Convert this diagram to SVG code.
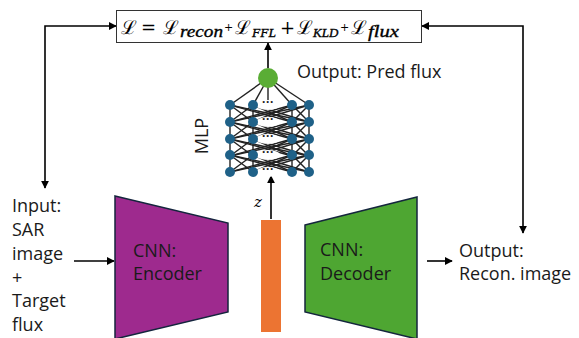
<svg xmlns="http://www.w3.org/2000/svg" width="579" height="338" viewBox="0 0 579 338">
<style>
.t{font-family:"Open Sans","Liberation Sans",sans-serif;font-size:18px;fill:#1a1a1a}
.m{font-family:"DejaVu Serif","Liberation Serif",serif;fill:#000}
.mi{font-family:"Liberation Serif","DejaVu Serif",serif;font-style:italic;fill:#000;stroke:#000;stroke-width:0.35}
.ln{stroke:#000;stroke-width:1.6;fill:none}
.nn{stroke:#222;stroke-width:1.4}
.bn{fill:#1f6188}
</style>
<defs>
<marker id="ah" viewBox="0 0 10 10" refX="9" refY="5" markerWidth="5" markerHeight="5" orient="auto-start-reverse">
<path d="M0,0 L10,5 L0,10 z" fill="#000"/>
</marker>
</defs>
<rect width="579" height="338" fill="#fff"/>

<g id="connectors">
<path class="ln" d="M45,188 L45,26 L116,26" marker-start="url(#ah)" marker-end="url(#ah)"/>
<path class="ln" d="M523,233 L523,26 L422,26" marker-start="url(#ah)" marker-end="url(#ah)"/>
<path class="ln" d="M268,68 L268,43" marker-end="url(#ah)"/>
<path class="ln" d="M74,261 L114,261" marker-end="url(#ah)"/>
<path class="ln" d="M427,261 L452,261" marker-end="url(#ah)"/>
<path class="ln" d="M271,219 L271,176" marker-end="url(#ah)"/>
</g>

<g id="loss">
<rect x="116.5" y="10.5" width="305" height="32" fill="#fff" stroke="#333" stroke-width="1"/>
<text class="m" x="121" y="34" font-size="19">ℒ</text>
<text class="m" x="141" y="34" font-size="18">=</text>
<text class="m" x="163" y="34" font-size="19">ℒ</text>
<text class="mi" x="180" y="37" font-size="17" textLength="43" lengthAdjust="spacingAndGlyphs">recon</text>
<text class="m" x="224" y="31" font-size="11">+</text>
<text class="m" x="235" y="34" font-size="19">ℒ</text>
<text class="mi" x="252" y="37" font-size="13.5">FFL</text>
<text class="m" x="280" y="34" font-size="18">+</text>
<text class="m" x="297" y="34" font-size="19">ℒ</text>
<text class="mi" x="313" y="37" font-size="13">KLD</text>
<text class="m" x="340" y="31" font-size="11">+</text>
<text class="m" x="351" y="34" font-size="19">ℒ</text>
<text class="mi" x="368" y="37" font-size="17" textLength="31" lengthAdjust="spacingAndGlyphs">flux</text>
</g>

<g id="mlp">
<g class="nn">
<line x1="268" y1="78" x2="230" y2="105"/><line x1="268" y1="78" x2="253" y2="105"/>
<line x1="268" y1="78" x2="268" y2="105"/>
<line x1="268" y1="78" x2="292" y2="105"/><line x1="268" y1="78" x2="309" y2="105"/>
<line x1="230" y1="105" x2="230" y2="172"/><line x1="309" y1="105" x2="309" y2="172"/>
<g id="gap">
<line x1="230" y1="105" x2="253" y2="122"/><line x1="230" y1="105" x2="292" y2="122"/><line x1="230" y1="105" x2="309" y2="122"/>
<line x1="253" y1="105" x2="230" y2="122"/><line x1="253" y1="105" x2="253" y2="122"/><line x1="253" y1="105" x2="292" y2="122"/><line x1="253" y1="105" x2="309" y2="122"/>
<line x1="292" y1="105" x2="230" y2="122"/><line x1="292" y1="105" x2="253" y2="122"/><line x1="292" y1="105" x2="292" y2="122"/><line x1="292" y1="105" x2="309" y2="122"/>
<line x1="309" y1="105" x2="230" y2="122"/><line x1="309" y1="105" x2="253" y2="122"/><line x1="309" y1="105" x2="292" y2="122"/>
</g>
<use href="#gap" y="17"/>
<use href="#gap" y="34"/>
<use href="#gap" y="50"/>
</g>
<g fill="#fff">
<ellipse cx="268" cy="105" rx="12" ry="5"/>
<ellipse cx="268" cy="122" rx="12" ry="5"/>
<ellipse cx="268" cy="139" rx="12" ry="5"/>
<ellipse cx="268" cy="155" rx="12" ry="5"/>
<ellipse cx="268" cy="172" rx="12" ry="5"/>
</g>
<g font-family="Liberation Sans,sans-serif" font-size="12" font-weight="bold" fill="#222" text-anchor="middle">
<text x="268" y="106">···</text><text x="268" y="123">···</text><text x="268" y="140">···</text><text x="268" y="156">···</text><text x="268" y="173">···</text>
</g>
<g class="bn">
<circle cx="230" cy="105" r="5"/><circle cx="253" cy="105" r="5"/><circle cx="292" cy="105" r="5"/><circle cx="309" cy="105" r="5"/>
<circle cx="230" cy="122" r="5"/><circle cx="253" cy="122" r="5"/><circle cx="292" cy="122" r="5"/><circle cx="309" cy="122" r="5"/>
<circle cx="230" cy="139" r="5"/><circle cx="253" cy="139" r="5"/><circle cx="292" cy="139" r="5"/><circle cx="309" cy="139" r="5"/>
<circle cx="230" cy="155" r="5"/><circle cx="253" cy="155" r="5"/><circle cx="292" cy="155" r="5"/><circle cx="309" cy="155" r="5"/>
<circle cx="230" cy="172" r="5"/><circle cx="253" cy="172" r="5"/><circle cx="292" cy="172" r="5"/><circle cx="309" cy="172" r="5"/>
</g>
<circle cx="268" cy="78" r="10" fill="#5aad35"/>
<text class="t" x="208" y="136" text-anchor="middle" transform="rotate(-90 208 136)">MLP</text>
<text class="t" x="297" y="78">Output: Pred flux</text>
</g>

<g id="input">
<text class="t"><tspan x="12" y="212">Input:</tspan><tspan x="12" y="236">SAR</tspan><tspan x="12" y="260">image</tspan><tspan x="12" y="284">+</tspan><tspan x="12" y="307">Target</tspan><tspan x="12" y="331">flux</tspan></text>
</g>

<g id="encoder">
<polygon points="115,196 228,223 228,312 115,339" fill="#9e2a8e" stroke="#14253d" stroke-width="1.5"/>
<text class="t" x="133" y="257">CNN:</text>
<text class="t" x="133" y="280">Encoder</text>
</g>

<g id="latent">
<rect x="261" y="220" width="20" height="112" fill="#ec7432"/>
<text x="254" y="207" font-family="DejaVu Serif,Liberation Serif,serif" font-style="italic" font-size="15" fill="#000">z</text>
</g>

<g id="decoder">
<polygon points="305,225 417,197 417,339 305,312" fill="#4ea632" stroke="#14253d" stroke-width="1.5"/>
<text class="t" x="320" y="256">CNN:</text>
<text class="t" x="320" y="280">Decoder</text>
</g>

<g id="output">
<text class="t" x="459" y="257">Output:</text>
<text class="t" x="459" y="280">Recon. image</text>
</g>
</svg>
